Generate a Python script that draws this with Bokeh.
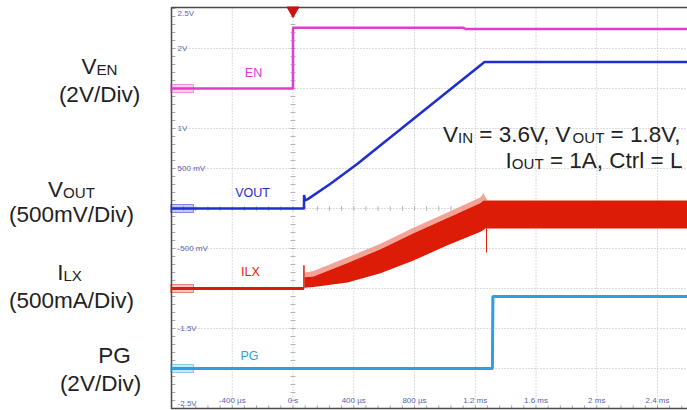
import numpy as np
from bokeh.plotting import figure
from bokeh.models import Range1d, ColumnDataSource
from bokeh.embed import file_html
from bokeh.resources import INLINE
from bokeh.core.properties import value

# ---------------- data (time in µs, amplitude in scope display units; 0.5 unit = 1 div) ----------------
en_t = [-800, 0, 0, 1120, 1135, 2600]
en_v = [1.5, 1.5, 2.26, 2.26, 2.245, 2.245]

vout_t = [-800, 72, 73, 80, 100, 247, 425, 556, 708, 971, 1261, 2600]
vout_v = [0.0, 0.0, 0.17, 0.10, 0.12, 0.31, 0.56, 0.76, 0.99, 1.39, 1.83, 1.83]

ilx_base_t = [-800, 72]
ilx_base_v = [-1.0, -1.0]
ilx_t = [76, 135, 359, 576, 793, 1017, 1235, 1254, 1267, 1281, 2600]
ilx_upper = [-0.80, -0.78, -0.61, -0.44, -0.24, -0.05, 0.14, 0.19, 0.14, 0.10, 0.10]
ilx_solid_top = [-0.86, -0.85, -0.68, -0.51, -0.31, -0.12, 0.07, 0.10, 0.10, 0.10, 0.10]
ilx_lower = [-0.99, -0.98, -0.925, -0.81, -0.65, -0.46, -0.29, -0.27, -0.25, -0.25, -0.25]
ilx_spike_t = [72, 72]
ilx_spike_v = [-1.0, -0.71]
ilx_dip_t = [1274, 1274]
ilx_dip_v = [-0.25, -0.55]

pg_t = [-800, 1313, 1316, 2600]
pg_v = [-2.0, -2.0, -1.10, -1.10]

time_ticks = [-400, 0, 400, 800, 1200, 1600, 2000, 2400]
time_labels = ["-400 µs", "0 s", "400 µs", "800 µs", "1.2 ms", "1.6 ms", "2 ms", "2.4 ms"]
volt_ticks = [2.5, 2.0, 1.0, 0.5, -0.5, -1.5, -2.5]
volt_labels = ["2.5V", "2V", "1V", "500 mV", "-500 mV", "-1.5V", "-2.5V"]
grid_v = [2.0, 1.5, 1.0, 0.5, 0.0, -0.5, -1.0, -1.5, -2.0]

channel_names = ["EN", "VOUT", "ILX", "PG"]
channel_levels = [1.5, 0.0, -1.0, -2.0]

# ---------------- styling / geometry ----------------
W, H = 687, 410
PX_PER_US = 0.151875
T0_PX = 292.5
V0_PY = 208.0
PX_PER_UNIT = 80.0
T_MIN, T_MAX = -800, 2600
V_MIN, V_MAX = -2.5, 2.5

C_EN = "#e23ccb"
C_VOUT = "#1f2ed0"
C_ILX = "#dd1c08"
C_ILX_LIGHT = "#f29a8c"
C_PG = "#2e9fe2"
C_TXT = "#222222"
C_SCOPE_TXT = "#5a62b8"
FONT = "Liberation Sans"


def px2t(px):
    return (px - T0_PX) / PX_PER_US


def py2v(py):
    return (V0_PY - py) / PX_PER_UNIT


p = figure(width=W, height=H, output_backend="svg", toolbar_location=None,
           x_range=Range1d(px2t(0), px2t(W)), y_range=Range1d(py2v(H), py2v(0)),
           x_axis_type=None, y_axis_type=None,
           min_border=0, min_border_left=0, min_border_right=0,
           min_border_top=0, min_border_bottom=0)
p.outline_line_color = None
p.grid.visible = False
p.background_fill_color = "white"
p.border_fill_color = "white"

# grid (dotted)
p.segment(x0=time_ticks, y0=[V_MIN] * len(time_ticks), x1=time_ticks, y1=[V_MAX] * len(time_ticks),
          line_color="#b8b8b8", line_width=1, line_dash="1 2")
p.segment(x0=[T_MIN] * len(grid_v), y0=grid_v, x1=[T_MAX] * len(grid_v), y1=grid_v,
          line_color="#b8b8b8", line_width=1, line_dash="1 2")

# minor ticks along the centre cross and edges
mv = np.arange(V_MIN, V_MAX + 0.001, 0.1)
mt = np.arange(T_MIN, T_MAX + 1, 80)
p.segment(x0=[-16] * len(mv), y0=mv, x1=[16] * len(mv), y1=mv, line_color="#b4b4b4", line_width=1)
p.segment(x0=mt, y0=[-0.03] * len(mt), x1=mt, y1=[0.03] * len(mt), line_color="#b4b4b4", line_width=1)
p.segment(x0=mt, y0=[V_MIN] * len(mt), x1=mt, y1=[V_MIN + 0.04] * len(mt), line_color="#a8a8a8", line_width=1)
p.segment(x0=[T_MIN] * len(mv), y0=mv, x1=[T_MIN + 25] * len(mv), y1=mv, line_color="#a8a8a8", line_width=1)

# frame
p.line([T_MAX + 50, T_MIN, T_MIN, T_MAX + 50], [py2v(7), py2v(7), V_MIN, V_MIN],
       line_color="#4a4a4a", line_width=1.5)

# scope tick labels
p.text(x=[T_MIN + 40] * len(volt_ticks), y=volt_ticks, text=volt_labels,
       y_offset=[5, 0, 0, 0, 0, 0, -5], text_font=value(FONT), text_font_size="8px",
       text_color=C_SCOPE_TXT, text_align="left", text_baseline="middle")
p.text(x=time_ticks, y=[V_MIN] * len(time_ticks), text=time_labels, y_offset=-8,
       text_font=value(FONT), text_font_size="8px", text_color=C_SCOPE_TXT,
       text_align="center", text_baseline="middle")

# channel ground markers
colors = [C_EN, C_VOUT, C_ILX, C_PG]
p.rect(x=[T_MIN + 70] * 4, y=channel_levels, width=150, height=0.1,
       fill_color=colors, fill_alpha=0.25, line_color=colors, line_alpha=0.5, line_width=1)

# traces
p.line(en_t, en_v, line_color=C_EN, line_width=2.5)
p.line(vout_t, vout_v, line_color=C_VOUT, line_width=2.5)
p.line(ilx_base_t, ilx_base_v, line_color=C_ILX, line_width=3)
p.varea(x=ilx_t, y1=ilx_solid_top, y2=ilx_upper, fill_color=C_ILX_LIGHT, fill_alpha=0.9)
p.varea(x=ilx_t, y1=ilx_lower, y2=ilx_solid_top, fill_color=C_ILX)
p.line(ilx_spike_t, ilx_spike_v, line_color=C_ILX, line_width=1.5)
p.line(ilx_dip_t, ilx_dip_v, line_color=C_ILX, line_width=1)
p.line(pg_t, pg_v, line_color=C_PG, line_width=3)

# trigger marker
p.scatter(x=[0], y=[py2v(10)], marker="inverted_triangle", size=12,
          fill_color="#cc1111", line_color="#cc1111")

# channel labels inside the scope
p.text(x=[px2t(253), px2t(252), px2t(250), px2t(249)],
       y=[py2v(72), py2v(192), py2v(271), py2v(355)],
       text=channel_names, text_color=colors, text_font=value(FONT),
       text_font_size="12.5px", text_align="center", text_baseline="middle")

# ---------------- rich text (subscripts) ----------------
AW = {" ": 278, "(": 333, ")": 333, "/": 278, "=": 584, ",": 278, ".": 278,
      "0": 556, "1": 556, "2": 556, "3": 556, "4": 556, "5": 556, "6": 556, "7": 556, "8": 556, "9": 556,
      "A": 667, "C": 722, "D": 722, "E": 667, "G": 778, "I": 278, "L": 556, "N": 722, "O": 778,
      "P": 667, "T": 611, "U": 722, "V": 667, "X": 667, "i": 222, "m": 833, "r": 333, "t": 278,
      "v": 500, "l": 222}
SUB = 0.67


def tw(s, size):
    return sum(AW.get(c, 556) for c in s) * size / 1000.0


rx, ry, rtext, rsize = [], [], [], []


def rich(pieces, anchor_px, center_py, align, size):
    widths = [tw(t, size * (SUB if sub else 1)) for t, sub in pieces]
    total = sum(widths)
    if align == "center":
        start = anchor_px - total / 2
    elif align == "right":
        start = anchor_px - total
    else:
        start = anchor_px
    cur = start
    for (t, sub), w in zip(pieces, widths):
        s = size * (SUB if sub else 1)
        lead = len(t) - len(t.lstrip(" "))
        rx.append(px2t(cur + tw(" " * lead, s)))
        # keep a common baseline: smaller text is centred a little lower
        ry.append(py2v(center_py + 0.36 * (size - s)))
        rtext.append(t.strip(" "))
        rsize.append("%.1fpx" % s)
        cur += w


FS = 22.5
rich([("V", False), ("EN", True)], 99, 66, "center", FS)
rich([("(2V/Div)", False)], 99, 94, "center", FS)
rich([("V", False), ("OUT", True)], 71, 189, "center", FS)
rich([("(500mV/Div)", False)], 71, 214, "center", FS)
rich([("I", False), ("LX", True)], 69, 272, "center", FS)
rich([("(500mA/Div)", False)], 71, 300, "center", FS)
rich([("PG", False)], 114, 355, "center", FS)
rich([("(2V/Div)", False)], 100, 383, "center", FS)
rich([("V", False), ("IN", True), (" = 3.6V, V", False), ("OUT", True), (" = 1.8V,", False)],
     682, 134, "right", FS)
rich([("I", False), ("OUT", True), (" = 1A, Ctrl = L", False)], 682, 160, "right", FS)

src = ColumnDataSource(dict(x=rx, y=ry, text=rtext, size=rsize))
p.text(x="x", y="y", text="text", text_font_size="size", source=src,
       text_font=value(FONT), text_color=C_TXT, text_align="left", text_baseline="middle")

open("out.html", "w").write(file_html(p, INLINE))
